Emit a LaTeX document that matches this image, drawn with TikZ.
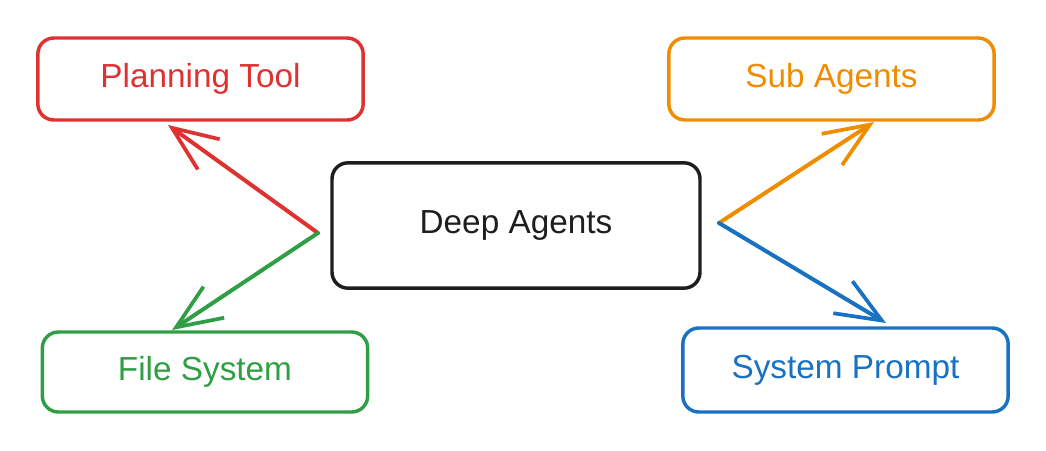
\documentclass[tikz,border=0pt]{standalone}
\usepackage{fontspec}
\setmainfont{Liberation Sans}
\usetikzlibrary{arrows.meta}
\definecolor{cred}{HTML}{E03131}
\definecolor{corange}{HTML}{F08C00}
\definecolor{cgreen}{HTML}{2F9E44}
\definecolor{cblue}{HTML}{1971C2}
\definecolor{cblack}{HTML}{1E1E1E}
\begin{document}
\begin{tikzpicture}[x=0.75pt,y=-0.75pt,
  box/.style={draw, line width=2.6pt, rounded corners=12pt, inner sep=0pt,
    font=\fontsize{25}{30}\selectfont, minimum width=244pt, minimum height=61.5pt},
  conn/.style={line width=3pt, line cap=round,
    -{Straight Barb[length=34pt,width=28pt,line width=2.8pt]}}]
\useasboundingbox (0,0) rectangle (1046,450);
\node[box, cred, text=cred] (plan) at (200.5,79) {Planning Tool};
\node[box, corange, text=corange] (sub) at (831.5,79) {Sub Agents};
\node[box, cgreen, text=cgreen, minimum height=60pt] (file) at (205,372) {File System};
\node[box, cblue, text=cblue, minimum height=63pt] (prompt) at (845.5,370) {System Prompt};
\node[box, cblack, text=cblack, minimum width=276pt, minimum height=94pt] (deep) at (516,225.5) {Deep Agents};
\coordinate (ls) at (318,233);
\coordinate (rs) at (719,223);
\coordinate (pe) at (168,125);
\coordinate (fe) at (172,330);
\coordinate (se) at (874,122);
\coordinate (ye) at (886,323);
\draw[conn, cred] (ls) -- (pe);
\draw[conn, cgreen] (ls) -- (fe);
\draw[conn, corange] (rs) -- (se);
\draw[conn, cblue] (rs) -- (ye);
\end{tikzpicture}
\end{document}
